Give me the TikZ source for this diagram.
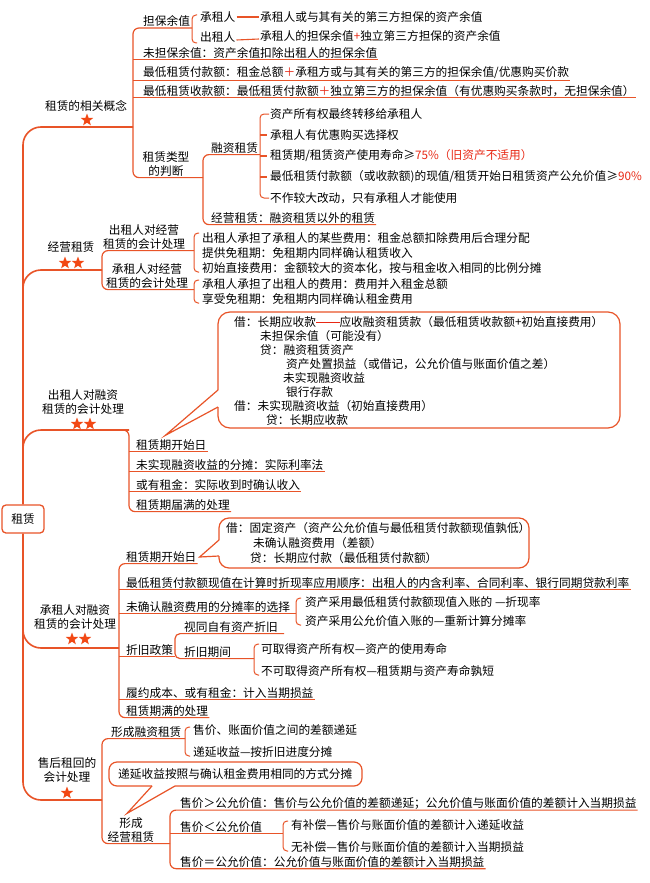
\documentclass[tikz,border=0pt]{standalone}
\usepackage{fontspec}
\setmainfont{Noto Sans CJK SC}
\usetikzlibrary{shapes.geometric}
\definecolor{mapline}{RGB}{232,84,40}
\definecolor{redtxt}{RGB}{232,40,20}
\definecolor{starc}{RGB}{242,72,20}
\newcommand{\rd}[1]{\textcolor{redtxt}{#1}}
\begin{document}
\begin{tikzpicture}[x=1pt,y=-1pt,
  txt/.style={anchor=west, inner sep=1pt, font=\fontsize{11.7}{14}\selectfont},
  lbl/.style={align=center, inner sep=1pt, font=\fontsize{11.7}{14}\selectfont},
  uline/.style={draw=mapline, line width=1.2pt},
  trunk/.style={draw=mapline, line width=1.6pt, rounded corners=18pt},
  brk/.style={draw=mapline, line width=1pt, rounded corners=4pt},
  callout/.style={draw=mapline, line width=1.2pt},
  starn/.style={star, star points=5, star point ratio=2.4, fill=starc, inner sep=0pt, minimum size=13pt},
  conn/.style={draw=mapline, line width=1.1pt}]
\useasboundingbox (0,0) rectangle (650,883);
\fill[white] (0,0) rectangle (650,883);

% vertical guide coordinates
\coordinate (v1) at (133,0);
\coordinate (v3) at (129,0);
\coordinate (v4) at (119,0);
\coordinate (b4) at (296,0);
\coordinate (b5) at (175,0);
\coordinate (b6) at (170,0);
\coordinate (b7) at (283,0);
\coordinate (bj) at (194,0);
\coordinate (c204) at (203,0);
\coordinate (c102) at (102,0);
\coordinate (c185) at (185,0);
\coordinate (c254) at (254,0);
\coordinate (c261) at (260,0);

% ================= Section 1 =================
\node[txt] (dbyz) at (142,21) {担保余值};
\node[txt] (czr1) at (199,17) {承租人};
\node[txt] (czr1t) at (259,17) {承租人或与其有关的第三方担保的资产余值};
\node[txt] (czr2) at (199,37) {出租人};
\node[txt] (czr2t) at (259,36) {承租人的担保余值\rd{+}独立第三方担保的资产余值};
\draw[conn] (czr1.east) -- (czr1t.west);
\draw[conn] ([yshift=-3pt]czr2.east) -- ([yshift=-3pt]czr2t.west);
\draw[brk] (197,15) -- (192,15) -- (192,43) -- (197,43);

\node[txt] (wdb) at (142,53) {未担保余值：资产余值扣除出租人的担保余值};
\node[txt] (zdfk) at (142,73) {最低租赁付款额：租金总额\rd{＋}承租方或与其有关的第三方的担保余值/优惠购买价款};
\node[txt] (zdsk) at (142,91) {最低租赁收款额：最低租赁付款额\rd{＋}独立第三方的担保余值（有优惠购买条款时，无担保余值）};
\draw[uline] (v1 |- wdb.south) -- (wdb.south east);
\draw[uline] (v1 |- zdfk.south) -- (zdfk.south east);
\draw[uline] (v1 |- zdsk.south) -- (zdsk.south east);

\node[lbl] (xgn) at (86,106) {租赁的相关概念};
\node[starn] (s1) at (87,120) {};

\node[lbl] (lxpd) at (166,164) {租赁类型\\的判断};
\draw[uline, rounded corners=6pt] (192,28) -- (133,28) -- (v1 |- lxpd.south) -- (c204 |- lxpd.south);

\node[txt] (rzzl) at (210,148) {融资租赁};
\node[txt] (jyzl) at (210,218) {经营租赁：融资租赁以外的租赁};
\draw[uline, rounded corners=6pt] (c261 |- rzzl.south) -- (c204 |- rzzl.south) -- (c204 |- jyzl.south) -- (jyzl.south east);
\node[txt] (r1) at (269,114) {资产所有权最终转移给承租人};
\node[txt] (r2) at (269,135) {承租人有优惠购买选择权};
\node[txt] (r3) at (269,156) {租赁期/租赁资产使用寿命≥\rd{75\%（旧资产不适用）}};
\node[txt] (r4) at (269,177) {最低租赁付款额（或收款额)的现值/租赁开始日租赁资产公允价值≥\rd{90\%}};
\node[txt] (r5) at (269,198) {不作较大改动，只有承租人才能使用};
\draw[brk] (r1.west) -- (c261 |- r1.west) -- (c261 |- r5.west) -- (r5.west);
\draw[conn] (c261 |- r2.west) -- ([xshift=-2pt]r2.west);
\draw[conn] (c261 |- r3.west) -- ([xshift=-2pt]r3.west);
\draw[conn] (c261 |- r4.west) -- ([xshift=-2pt]r4.west);

% trunk top + branch 1
\node[draw=mapline, line width=1.3pt, rounded corners=4pt, minimum width=42pt, minimum height=28pt, inner sep=0pt, font=\fontsize{11.7}{14}\selectfont] (root) at (23,519) {租赁};
\draw[trunk] (133,127) -- (23,127) -- (root.north);
\draw[trunk] (root.south) -- (23,800) -- (102,800);

% ================= Section 2 =================
\node[lbl] (jyzl2) at (71,247) {经营租赁};
\node[starn] (s2a) at (65,263) {};
\node[starn] (s2b) at (78,263) {};
\draw[trunk] (23,292) -- (23,270) -- (102,270);
\node[lbl] (czrjy) at (144,237) {出租人对经营\\租赁的会计处理};
\node[lbl] (crjy) at (147,276) {承租人对经营\\租赁的会计处理};
\draw[uline, rounded corners=6pt] (bj |- czrjy.south) -- (c102 |- czrjy.south) -- (c102 |- crjy.south) -- (bj |- crjy.south);
\draw[brk] (199,233) -- (194,233) -- (194,272) -- (199,272);
\node[txt] (j1) at (201,238) {出租人承担了承租人的某些费用：租金总额扣除费用后合理分配};
\node[txt] (j2) at (201,253) {提供免租期：免租期内同样确认租赁收入};
\node[txt] (j3) at (201,268) {初始直接费用：金额较大的资本化，按与租金收入相同的比例分摊};
\draw[brk] (199,280) -- (194,280) -- (194,303) -- (199,303);
\node[txt] (j4) at (201,284) {承租人承担了出租人的费用：费用并入租金总额};
\node[txt] (j5) at (201,299) {享受免租期：免租期内同样确认租金费用};

% ================= Section 3 =================
\node[txt] (zqk1) at (135,445) {租赁期开始日};
\node[txt] (wsx) at (135,465) {未实现融资收益的分摊：实际利率法};
\node[txt] (hyzj) at (135,485) {或有租金：实际收到时确认收入};
\node[txt] (zqjm) at (135,505) {租赁期届满的处理};
\coordinate (tip1) at ([xshift=-6pt,yshift=3pt]zqk1.north);
\draw[callout, rounded corners=12pt] (218,407) -- (218,428) -- (620,428) -- (620,312) -- (218,312) -- (218,390);
\draw[callout] (218,390) -- (tip1) -- (218,407);
\node[txt] (c1a) at (233,322) {借：长期应收款\rd{\rule[0.32em]{2em}{1.2pt}}应收融资租赁款（最低租赁收款额+初始直接费用）};
\node[txt] (c1b) at (259,336) {未担保余值（可能没有）};
\node[txt] (c1c) at (259,350) {贷：融资租赁资产};
\node[txt] (c1d) at (285,364) {资产处置损益（或借记，公允价值与账面价值之差）};
\node[txt] (c1e) at (282,378) {未实现融资收益};
\node[txt] (c1f) at (285,392) {银行存款};
\node[txt] (c1g) at (233,406) {借：未实现融资收益（初始直接费用）};
\node[txt] (c1h) at (265,420) {贷：长期应收款};

\node[lbl] (czrrz) at (83,402) {出租人对融资\\租赁的会计处理};
\node[starn] (s3a) at (77,424) {};
\node[starn] (s3b) at (90,424) {};
\draw[trunk] (23,452) -- (23,430) -- (129,430);
\draw[uline, rounded corners=6pt] (110,430) -- (129,430) -- (v3 |- zqjm.south) -- (zqjm.south east);
\draw[uline] (v3 |- zqk1.south) -- (zqk1.south east);
\draw[uline] (v3 |- wsx.south) -- (wsx.south east);
\draw[uline] (v3 |- hyzj.south) -- (hyzj.south east);

% ================= Section 4 =================
\node[txt] (zqk2) at (125,557) {租赁期开始日};
\coordinate (tip2) at ([xshift=2pt]zqk2.east);
\draw[callout, rounded corners=10pt] (219,556) -- (219,568) -- (529,568) -- (529,518) -- (219,518) -- (219,540);
\draw[callout] (219,540) -- (tip2) -- (219,556);
\node[txt] (c2a) at (225,528) {借：固定资产（资产公允价值与最低租赁付款额现值孰低）};
\node[txt] (c2b) at (252,543) {未确认融资费用（差额）};
\node[txt] (c2c) at (249,558) {贷：长期应付款（最低租赁付款额）};

\node[txt] (zxl) at (125,583) {最低租赁付款额现值在计算时折现率应用顺序：出租人的内含利率、合同利率、银行同期贷款利率};
\node[txt] (wqr) at (125,607) {未确认融资费用的分摊率的选择};
\draw[brk] (301,598) -- (296,598) -- (296,625) -- (301,625);
\node[txt] (ft1) at (304,602) {资产采用最低租赁付款额现值入账的 —折现率};
\node[txt] (ft2) at (304,621) {资产采用公允价值入账的—重新计算分摊率};
\node[txt] (stzj) at (183,627) {视同自有资产折旧};
\node[txt] (zjzc) at (125,650) {折旧政策};
\node[txt] (zjqj) at (183,652) {折旧期间};
\draw[brk] (259,644) -- (254,644) -- (254,675) -- (259,675);
\node[txt] (zj1) at (260,649) {可取得资产所有权—资产的使用寿命};
\node[txt] (zj2) at (260,671) {不可取得资产所有权—租赁期与资产寿命孰短};
\node[txt] (lycb) at (125,693) {履约成本、或有租金：计入当期损益};
\node[txt] (zqm2) at (125,711) {租赁期满的处理};

\node[lbl] (czrrz2) at (75,617) {承租人对融资\\租赁的会计处理};
\node[starn] (s4a) at (72,639) {};
\node[starn] (s4b) at (85,639) {};
\draw[trunk] (23,628) -- (23,648) -- (119,648);
\draw[uline, rounded corners=6pt] (zqk2.south east) -- (v4 |- zqk2.south) -- (v4 |- zqm2.south) -- (zqm2.south east);
\draw[uline] (v4 |- zxl.south) -- (zxl.south east);
\draw[uline] (v4 |- wqr.south) -- (b4 |- wqr.south);
\draw[uline] (v4 |- zjzc.south) -- (b5 |- zjzc.south);
\draw[uline] (v4 |- lycb.south) -- (lycb.south east);
\draw[uline, rounded corners=5pt] ([xshift=5pt]stzj.south east) -- (b5 |- stzj.south) -- (b5 |- zjqj.south) -- (c254 |- zjqj.south);

% ================= Section 5 =================
\node[lbl] (shzh) at (67,770) {售后租回的\\会计处理};
\node[starn] (s5) at (67,793) {};
\node[txt] (xcrz) at (110,732) {形成融资租赁};
\draw[brk] (190,727) -- (185,727) -- (185,756) -- (190,756);
\node[txt] (sj1) at (192,730) {售价、账面价值之间的差额递延};
\node[txt] (sj2) at (192,752) {递延收益—按折旧进度分摊};

\node[txt] (c3) at (117,774) {递延收益按照与确认租金费用相同的方式分摊};
\node[lbl] (xcjy) at (131,830) {形成\\经营租赁};
\coordinate (tip3) at ([xshift=-4pt,yshift=3pt]xcjy.north);
\draw[callout, rounded corners=8pt] (175,786) -- (362,786) -- (362,762) -- (109,762) -- (109,786) -- (152,786);
\draw[callout] (152,786) -- (tip3) -- (175,786);

\draw[uline, rounded corners=6pt] (c185 |- xcrz.south) -- (c102 |- xcrz.south) -- (c102 |- xcjy.south) -- (b6 |- xcjy.south);

\node[txt] (sg1) at (179,803) {售价＞公允价值：售价与公允价值的差额递延；公允价值与账面价值的差额计入当期损益};
\node[txt] (sg2) at (179,827) {售价＜公允价值};
\node[txt] (sg3) at (179,862) {售价＝公允价值：公允价值与账面价值的差额计入当期损益};
\draw[uline, rounded corners=6pt] (sg1.south east) -- (b6 |- sg1.south) -- (b6 |- sg3.south) -- (sg3.south east);
\draw[uline] (b6 |- sg2.south) -- (b7 |- sg2.south);
\draw[brk] (288,821) -- (283,821) -- (283,851) -- (288,851);
\node[txt] (bc1) at (290,825) {有补偿—售价与账面价值的差额计入递延收益};
\node[txt] (bc2) at (290,847) {无补偿—售价与账面价值的差额计入当期损益};
\end{tikzpicture}
\end{document}
